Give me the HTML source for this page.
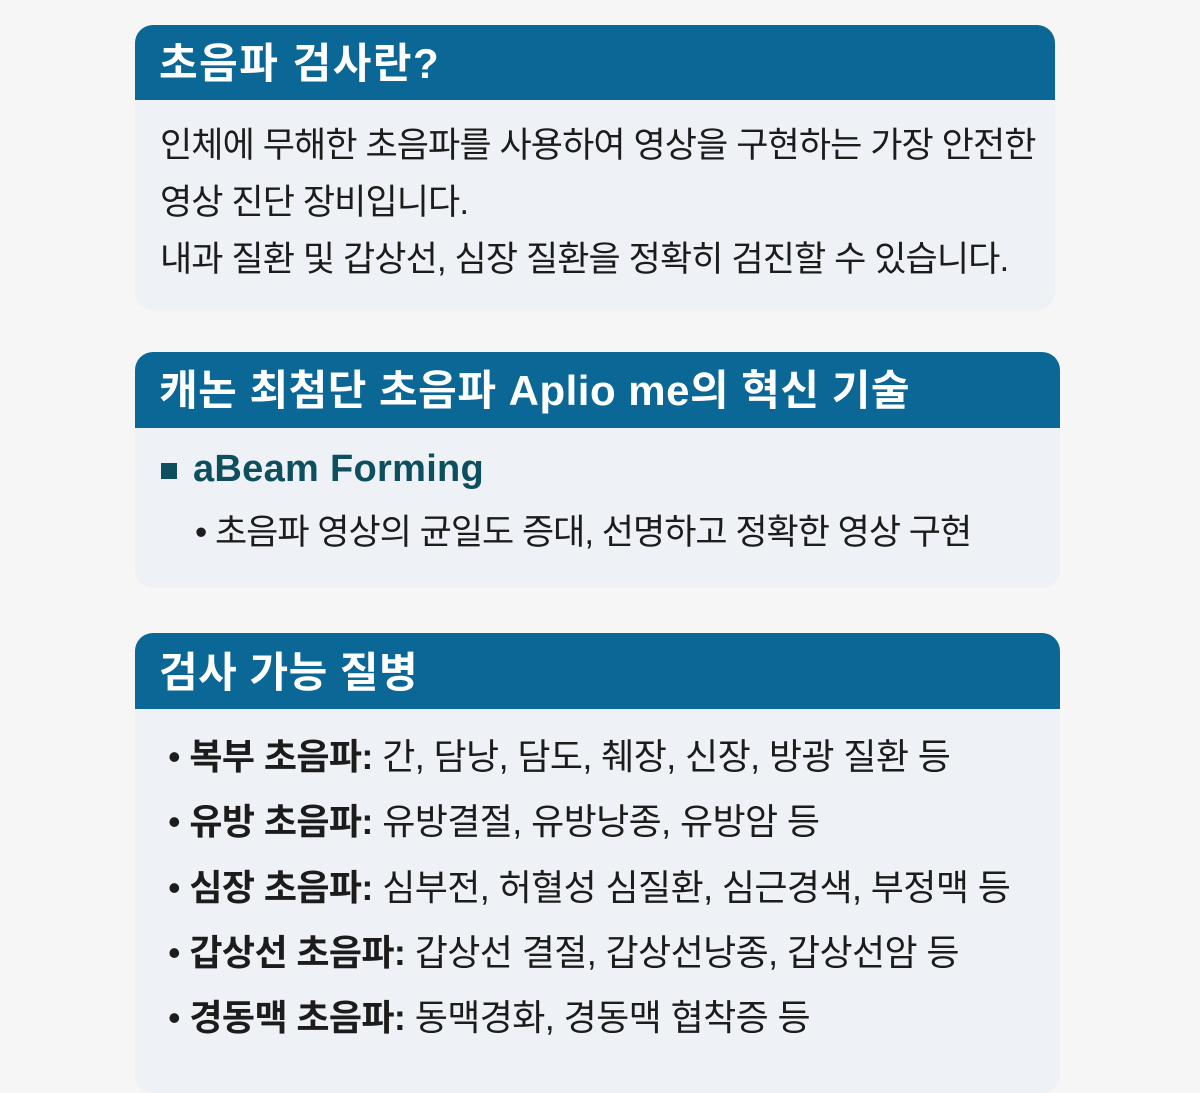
<!DOCTYPE html>
<html><head><meta charset="utf-8"><style>
*{margin:0;padding:0;box-sizing:border-box}
body{width:1200px;height:1055px;background:#f6f6f7;position:relative;overflow:hidden;font-family:"Liberation Sans","Noto Sans CJK KR",sans-serif;color:#1c1c1c}
.card{position:absolute;left:135px;border-radius:18px;background:#eef1f5;overflow:hidden}
.hd{background:#0a6796;color:#fff;font-weight:bold;font-size:42px;padding-left:24px;letter-spacing:0.5px}
.t{position:absolute;white-space:nowrap}
</style></head><body>
<div class="card" style="top:25px;width:920px;height:285px">
 <div class="hd" style="height:75px;line-height:78px;letter-spacing:1.5px">초음파 검사란?</div>
</div>
<div class="t" style="left:160px;top:117px;font-size:35px;line-height:57px;letter-spacing:-0.9px">인체에 무해한 초음파를 사용하여 영상을 구현하는 가장 안전한<br>영상 진단 장비입니다.<br>내과 질환 및 갑상선, 심장 질환을 정확히 검진할 수 있습니다.</div>

<div class="card" style="top:352px;width:925px;height:236px">
 <div class="hd" style="height:76px;line-height:78px">캐논 최첨단 초음파 Aplio me의 혁신 기술</div>
</div>
<div style="position:absolute;left:161px;top:463px;width:16px;height:16px;background:#0d4f5f"></div>
<div class="t" style="left:193px;top:447px;font-size:38px;line-height:44px;font-weight:bold;color:#0d4f5f;letter-spacing:0.3px">aBeam Forming</div>
<div class="t" style="left:195px;top:511px;font-size:35px;line-height:44px;letter-spacing:-1px">• 초음파 영상의 균일도 증대, 선명하고 정확한 영상 구현</div>

<div class="card" style="top:633px;width:925px;height:460px">
 <div class="hd" style="height:76px;line-height:80px">검사 가능 질병</div>
</div>
<div class="t" style="left:168px;top:724px;font-size:36px;line-height:65.3px;letter-spacing:-0.6px">
• <b>복부 초음파:</b> 간, 담낭, 담도, 췌장, 신장, 방광 질환 등<br>
• <b>유방 초음파:</b> 유방결절, 유방낭종, 유방암 등<br>
• <b>심장 초음파:</b> 심부전, 허혈성 심질환, 심근경색, 부정맥 등<br>
• <b>갑상선 초음파:</b> 갑상선 결절, 갑상선낭종, 갑상선암 등<br>
• <b>경동맥 초음파:</b> 동맥경화, 경동맥 협착증 등</div>
</body></html>
